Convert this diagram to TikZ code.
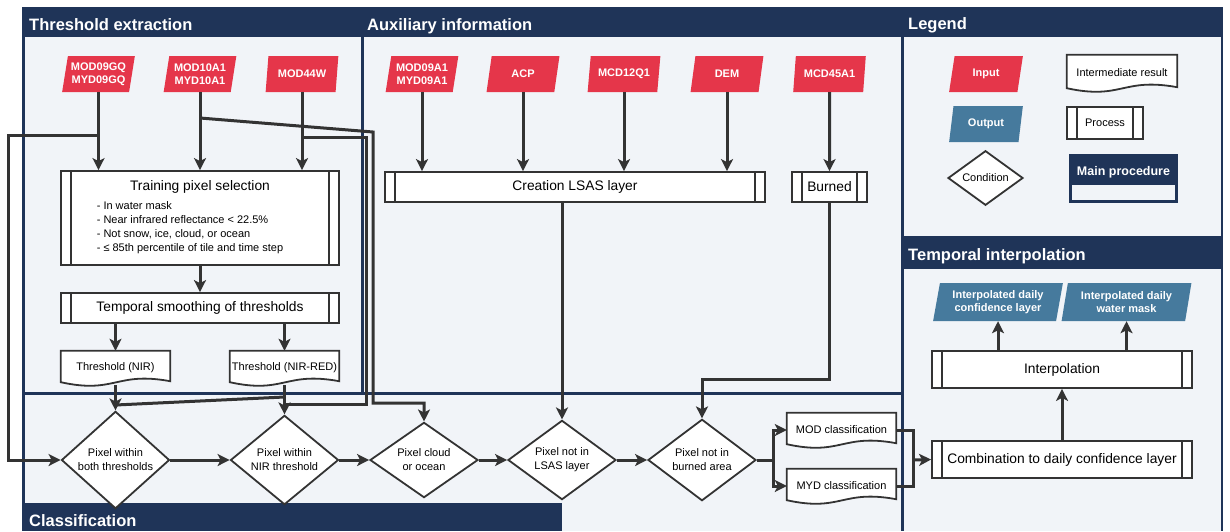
\documentclass[tikz,border=0pt]{standalone}
\usepackage{fontspec}
\setmainfont{Liberation Sans}
\usetikzlibrary{shapes.geometric,arrows.meta,calc}
\definecolor{navy}{HTML}{1F3458}
\definecolor{pale}{HTML}{F1F4F8}
\definecolor{inred}{HTML}{E5364A}
\definecolor{outblue}{HTML}{467A9D}
\definecolor{lc}{HTML}{333333}
\pgfdeclarelayer{back}\pgfdeclarelayer{mid}\pgfsetlayers{back,mid,main}
\newcommand\docshape[1]{%
  \draw[lc, line width=1.8pt, fill=white] (#1.north west) -- (#1.north east) -- ($(#1.south east)+(0pt,4pt)$)
   .. controls ($(#1.south east)!0.5!(#1.south west)+(0pt,14pt)$) and ($(#1.south east)!0.5!(#1.south west)+(0pt,-9pt)$) ..
   ($(#1.south west)+(0pt,3pt)$) -- cycle;}
\begin{document}
\begin{tikzpicture}[x=1pt,y=-1pt,
  htitle/.style={anchor=base west, text=white, font=\bfseries\fontsize{16.5}{18}\selectfont, inner sep=0pt},
  para/.style={trapezium, trapezium left angle=78, trapezium right angle=102, trapezium stretches=true,
     draw=none, text=white, align=center, inner sep=1pt, font=\bfseries\fontsize{11}{13.5}\selectfont},
  inp/.style={para, fill=inred, minimum width=73pt, minimum height=36pt},
  outp/.style={para, fill=outblue, minimum width=74pt, minimum height=37pt},
  proc/.style={rectangle, draw=lc, line width=1.8pt, fill=white, inner sep=2pt,
     font=\fontsize{13.8}{16}\selectfont,
     path picture={\draw[lc, line width=1.8pt]
       ([xshift=10pt]path picture bounding box.north west) -- ([xshift=10pt]path picture bounding box.south west)
       ([xshift=-10pt]path picture bounding box.north east) -- ([xshift=-10pt]path picture bounding box.south east);}},
  dia/.style={diamond, draw=lc, line width=1.8pt, fill=white, inner sep=0pt, align=center,
     minimum width=108pt, minimum height=74pt, font=\fontsize{11}{14}\selectfont},
  docn/.style={rectangle, inner sep=0pt, font=\fontsize{11}{13}\selectfont},
  ln/.style={draw=lc, line width=3pt},
  arr/.style={ln, -{Stealth[length=12pt,width=12pt,inset=3pt]}}
]
\useasboundingbox (0,0) rectangle (1230,531);
\begin{pgfonlayer}{back}
\fill[white] (0,0) rectangle (1230,531);
\fill[navy] (22,7) rectangle (1223,531);
\fill[pale] (24.5,37) rectangle (360.5,391.5);
\fill[pale] (363.5,37) rectangle (900.5,391.5);
\fill[pale] (904,37) rectangle (1221,236);
\fill[pale] (904,269) rectangle (1221,531);
\fill[pale] (24.5,394.5) rectangle (900.5,531);
\fill[navy] (22,503) rectangle (562,531);
\end{pgfonlayer}

% headers
\node[htitle] (h1) at (29,30) {Threshold extraction};
\node[htitle] (h2) at (367,30) {Auxiliary information};
\node[htitle] (h3) at (908,29) {Legend};
\node[htitle] (h4) at (908,260) {Temporal interpolation};
\node[htitle] (h5) at (29,526) {Classification};

% inputs
\node[inp] (in1) at (98.5,74) {MOD09GQ\\MYD09GQ};
\node[inp] (in2) at (200,74) {MOD10A1\\MYD10A1};
\node[inp] (in3) at (302,74) {MOD44W};
\node[inp] (in4) at (422,74) {MOD09A1\\MYD09A1};
\node[inp] (in5) at (523,74) {ACP};
\node[inp] (in6) at (624,74) {MCD12Q1};
\node[inp] (in7) at (727,74) {DEM};
\node[inp] (in8) at (829.5,74) {MCD45A1};

% threshold extraction
\node[proc, minimum width=278pt, minimum height=94pt] (train) at (200,218)
 {\begin{tabular}{@{}l@{}}\multicolumn{1}{@{}c@{}}{\hspace*{20pt}Training pixel selection}\\[3.5pt]
  \fontsize{11}{13.7}\selectfont - In water mask\\[-2pt]
  \fontsize{11}{13.7}\selectfont - Near infrared reflectance < 22.5\%\\[-2pt]
  \fontsize{11}{13.7}\selectfont - Not snow, ice, cloud, or ocean\\[-2pt]
  \fontsize{11}{13.7}\selectfont - ≤ 85th percentile of tile and time step\end{tabular}\hspace*{20pt}};
\node[proc, minimum width=278pt, minimum height=30pt] (smooth) at (200,308) {Temporal smoothing of thresholds};
\node[docn, minimum width=109pt, minimum height=34pt] (thr1) at (115.5,368) {Threshold (NIR)};
\node[docn, minimum width=109pt, minimum height=34pt] (thr2) at (284.5,368) {Threshold (NIR-RED)};

% auxiliary
\node[proc, minimum width=380pt, minimum height=30pt] (creation) at (575,187) {Creation LSAS layer};
\node[proc, minimum width=75pt, minimum height=30pt] (burned) at (829.5,187) {Burned};

% classification
\node[dia] (d1) at (115.5,460) {Pixel within\\both thresholds};
\node[dia] (d2) at (284.5,460) {Pixel within\\NIR threshold};
\node[dia] (d3) at (424,460) {Pixel cloud\\or ocean};
\node[dia] (d4) at (562,460) {Pixel not in\\LSAS layer};
\node[dia] (d5) at (702,460) {Pixel not in\\burned area};
\node[docn, minimum width=109pt, minimum height=34pt] (mod) at (841.5,430) {MOD classification};
\node[docn, minimum width=109pt, minimum height=34pt] (myd) at (841.5,486) {MYD classification};

% temporal interpolation
\node[proc, minimum width=260pt, minimum height=37pt] (comb) at (1062,459.5) {Combination to daily confidence layer};
\node[proc, minimum width=260pt, minimum height=37pt] (interp) at (1062,369.5) {Interpolation};
\node[outp, minimum width=130pt, minimum height=38pt] (out1) at (998,302) {Interpolated daily\\confidence layer};
\node[outp, minimum width=130pt, minimum height=38pt] (out2) at (1126.5,302) {Interpolated daily\\water mask};

% legend
\node[inp, minimum width=74pt] (lin) at (986,74) {Input};
\node[outp, minimum height=36pt] (lout) at (986,124) {Output};
\node[dia, minimum width=75pt, minimum height=48pt] (lcond) at (985.5,178) {Condition};
\node[docn, minimum width=110pt, minimum height=36pt] (lint) at (1122,73) {Intermediate result};
\node[proc, minimum width=76pt, minimum height=32pt, font=\fontsize{11}{13}\selectfont] (lproc) at (1105,123) {Process};
\node[fill=navy, text=white, font=\bfseries\fontsize{12.5}{14}\selectfont, minimum width=109pt,
  inner xsep=0pt, inner ysep=3pt, text height=18pt, text depth=25pt] (lmain) at (1123.5,178.5) {Main procedure};
\fill[pale] ($(lmain.south west)+(3pt,3pt)$) rectangle ($(lmain.south east)+(-3pt,18pt)$);

% document outlines
\begin{pgfonlayer}{mid}
\docshape{thr1}\docshape{thr2}\docshape{mod}\docshape{myd}\docshape{lint}
\end{pgfonlayer}

% coordinates for bends
\coordinate (jA) at (98.5,135);  \coordinate (lA) at (8,135);
\coordinate (jB) at (200,118);   \coordinate (cB1) at (373,132); \coordinate (cB2) at (373,403);
\coordinate (jC) at (302,137);   \coordinate (cC1) at (366,137); \coordinate (cC2) at (366,404); \coordinate (cC3) at (284.5,404);
\coordinate (cD1) at (284.5,397); \coordinate (cD2) at (115.5,405);
\coordinate (cE) at (829.5,379);
\coordinate (cF) at (773,460);
\coordinate (cG) at (913,460);

% connectors: threshold extraction
\draw[arr] (in1.south) -- (in1.south |- train.north);
\draw[arr] (in2.south) -- (in2.south |- train.north);
\draw[arr] (in3.south) -- (in3.south |- train.north);
\draw[arr] (train.south) -- (smooth.north);
\draw[arr] (smooth.south -| thr1.south) -- (thr1.north);
\draw[arr] (smooth.south -| thr2.south) -- (thr2.north);
\draw[arr] (thr1.south) -- (d1.north);
\draw[arr] (thr2.south) -- (d2.north);
\draw[arr] (jA) -- (lA) |- (d1.west);
\draw[arr] (jB) -- (cB1) -- (cB2) -| (d3.north);
\draw[ln] (jC) -- (cC1) -- (cC2) -- (cC3);
\draw[ln] (cD1) -- (cD2);

% connectors: auxiliary
\draw[arr] (in4.south) -- (in4.south |- creation.north);
\draw[arr] (in5.south) -- (in5.south |- creation.north);
\draw[arr] (in6.south) -- (in6.south |- creation.north);
\draw[arr] (in7.south) -- (in7.south |- creation.north);
\draw[arr] (in8.south) -- (burned.north);
\draw[arr] (creation.south -| d4.north) -- (d4.north);
\draw[arr] (burned.south) -- (cE) -| (d5.north);

% connectors: classification
\draw[arr] (d1.east) -- (d2.west);
\draw[arr] (d2.east) -- (d3.west);
\draw[arr] (d3.east) -- (d4.west);
\draw[arr] (d4.east) -- (d5.west);
\draw[ln] (d5.east) -- (cF);
\draw[arr] (cF) |- (mod.west);
\draw[arr] (cF) |- (myd.west);
\draw[ln] (mod.east) -| (cG) |- (myd.east);
\draw[arr] (cG) -- (comb.west);

% connectors: temporal interpolation
\draw[arr] (comb.north) -- (interp.south);
\draw[arr] (interp.north -| out1.south) -- (out1.south);
\draw[arr] (interp.north -| out2.south) -- (out2.south);
\end{tikzpicture}
\end{document}
